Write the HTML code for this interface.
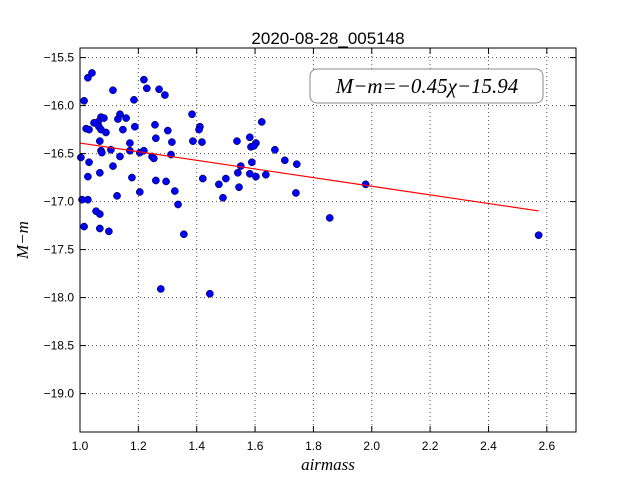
<!DOCTYPE html>
<html><head><meta charset="utf-8"><style>
body{margin:0;background:#fff;}
</style></head><body>
<svg id="c" width="640" height="480" xmlns="http://www.w3.org/2000/svg" font-family="Liberation Sans, sans-serif">
<rect width="640" height="480" fill="#fff"/>
<text x="328" y="44" text-anchor="middle" font-size="17">2020-08-28_005148</text>
<text x="328" y="470" text-anchor="middle" style="font-family:'Liberation Serif',serif;font-style:italic;font-size:17px">airmass</text>
<text x="0" y="0" transform="translate(28,240) rotate(-90)" text-anchor="middle" style="font-family:'Liberation Serif',serif;font-style:italic;font-size:17px">M−m</text>
<g id="grid"></g><g id="ticks"></g><g id="marks"></g>
<rect x="80" y="48" width="496" height="384" fill="none" stroke="#000" stroke-width="1"/>
<g>
<rect x="310" y="69" width="233" height="34" rx="7" fill="#fff" stroke="#888" stroke-width="1"/>
<text x="427" y="93" text-anchor="middle" style="font-family:'Liberation Serif',serif;font-style:italic;font-size:21px">M−m=−0.45χ−15.94</text>
</g>
</svg>
<script>
const airmass=[1.027,1.041,1.014,1.113,1.185,1.219,1.229,1.271,1.291,1.384,1.411,1.408,1.137,1.130,1.158,1.072,1.082,1.062,1.048,1.065,1.021,1.031,1.072,1.089,1.147,1.188,1.257,1.301,1.260,1.315,1.387,1.418,1.068,1.171,1.003,1.072,1.075,1.106,1.137,1.171,1.205,1.219,1.247,1.253,1.312,1.031,1.113,1.027,1.068,1.178,1.260,1.295,1.421,1.325,1.205,1.127,1.007,1.027,1.336,1.055,1.068,1.014,1.068,1.099,1.356,1.623,1.538,1.582,1.603,1.586,1.596,1.668,1.702,1.743,1.589,1.551,1.541,1.582,1.603,1.637,1.500,1.476,1.545,1.740,1.490,1.856,1.445,1.277,1.979,2.572];
const mag=[-15.71,-15.66,-15.95,-15.84,-15.94,-15.73,-15.82,-15.83,-15.89,-16.09,-16.22,-16.25,-16.09,-16.14,-16.13,-16.12,-16.13,-16.17,-16.18,-16.22,-16.24,-16.25,-16.25,-16.28,-16.25,-16.22,-16.20,-16.26,-16.34,-16.38,-16.37,-16.38,-16.37,-16.39,-16.54,-16.47,-16.49,-16.46,-16.53,-16.47,-16.49,-16.47,-16.53,-16.55,-16.51,-16.59,-16.63,-16.74,-16.70,-16.75,-16.78,-16.79,-16.76,-16.89,-16.90,-16.94,-16.98,-16.98,-17.03,-17.10,-17.13,-17.26,-17.28,-17.31,-17.34,-16.17,-16.37,-16.33,-16.39,-16.43,-16.42,-16.46,-16.57,-16.61,-16.59,-16.63,-16.70,-16.71,-16.74,-16.72,-16.76,-16.82,-16.85,-16.91,-16.96,-17.17,-17.96,-17.91,-16.82,-17.35];
const fitSlope=-0.45, fitIntercept=-15.94, fitRange=[1.0,2.572];
const xTicks=[1.0,1.2,1.4,1.6,1.8,2.0,2.2,2.4,2.6];
const yTicks=[-15.5,-16.0,-16.5,-17.0,-17.5,-18.0,-18.5,-19.0];
const X=v=>80+(v-1.0)/1.7*496, Y=v=>48+(-15.4-v)/4.0*384;
const NS="http://www.w3.org/2000/svg";
function mk(t,a,p){const e=document.createElementNS(NS,t);for(const k in a)e.setAttribute(k,a[k]);p.appendChild(e);return e;}
const g=document.getElementById('grid'),tk=document.getElementById('ticks'),m=document.getElementById('marks');
xTicks.forEach(v=>{const x=X(v);
 const l=mk('line',{x1:x,x2:x,y1:48,y2:432,stroke:'#555','stroke-dasharray':'1,3','stroke-width':1},g);
 
 
 mk('line',{x1:x,x2:x,y1:432,y2:426,stroke:'#000'},tk);mk('line',{x1:x,x2:x,y1:48,y2:54,stroke:'#000'},tk);
 const t=mk('text',{x:x,y:450,'text-anchor':'middle','font-size':12},tk);t.textContent=v.toFixed(1);
 
 });
yTicks.forEach(v=>{const y=Y(v);
 const l=mk('line',{x1:80,x2:576,y1:y,y2:y,stroke:'#555','stroke-dasharray':'1,3','stroke-width':1},g);
 
 
 mk('line',{x1:80,x2:86,y1:y,y2:y,stroke:'#000'},tk);mk('line',{x1:570,x2:576,y1:y,y2:y,stroke:'#000'},tk);
 const t=mk('text',{x:74,y:y+4,'text-anchor':'end','font-size':12},tk);t.textContent=v.toFixed(1).replace('-','−');
 
 });
airmass.forEach((a,i)=>{const c=mk('circle',{cx:X(a),cy:Y(mag[i]),r:3.6,fill:'#0000ff',stroke:'#000','stroke-width':0.5},m);
 
 });
const fl=mk('line',{x1:X(fitRange[0]),y1:Y(fitSlope*fitRange[0]+fitIntercept),x2:X(fitRange[1]),y2:Y(fitSlope*fitRange[1]+fitIntercept),stroke:'#ff0000','stroke-width':1.2},m);


</script>
</body></html>
